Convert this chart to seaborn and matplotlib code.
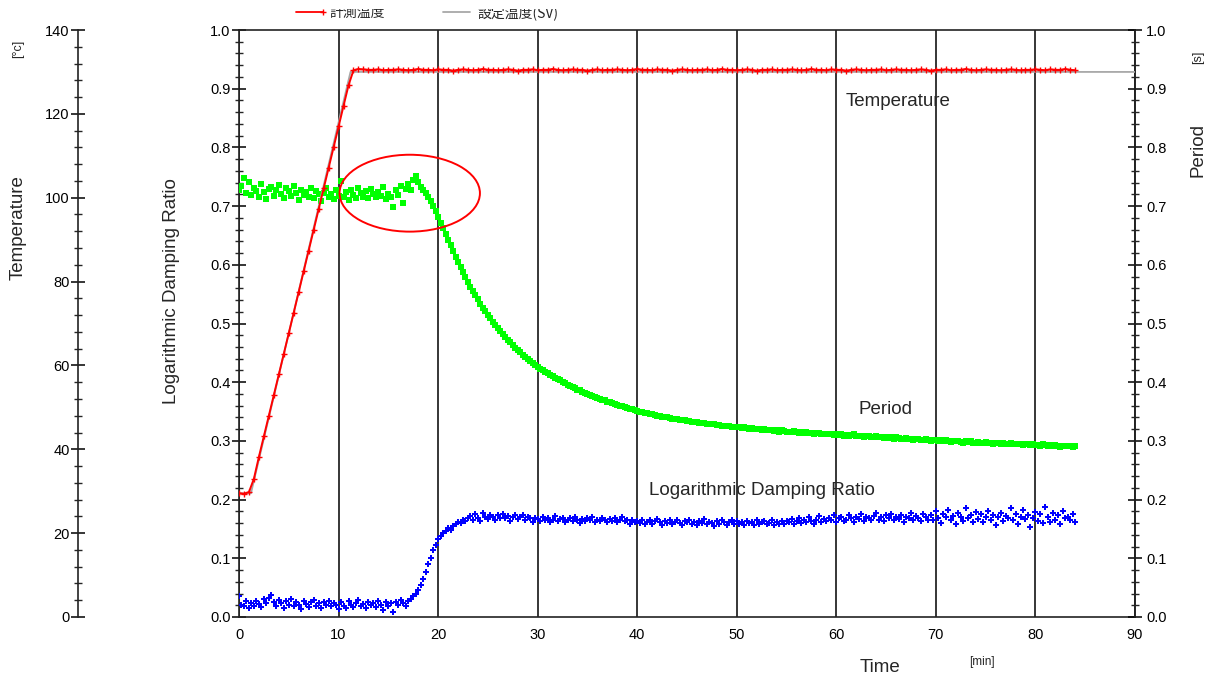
import numpy as np
import pandas as pd
import matplotlib
matplotlib.use("Agg")
import matplotlib.pyplot as plt
from matplotlib.patches import Ellipse, Rectangle
from matplotlib.lines import Line2D
from matplotlib.ticker import MultipleLocator, FormatStrFormatter
import seaborn as sns

# ---------------- data ----------------
STEP_FAST = 0.25   # min, sampling of period / damping ratio
STEP_TEMP = 0.5    # min, sampling of measured temperature

period_s = [
    # 0 - 18.5 min : flat, noisy
    .727, .735, .748, .722, .741, .719, .731, .726, .715, .737, .724, .712, .729, .733, .718, .727,
    .736, .721, .714, .730, .725, .717, .734, .722, .711, .728, .719, .724, .716, .731, .713, .726,
    .720, .709, .723, .730, .715, .721, .712, .727, .718, .742, .716, .724, .711, .728, .719, .714,
    .731, .722, .716, .725, .713, .729, .720, .715, .724, .718, .733, .712, .721, .716, .699, .727,
    .719, .735, .706, .729, .738, .727, .744, .752, .741, .733, .728,
    # 18.75 - 30 min : drop
    .722, .715, .709, .700, .691, .681, .672, .662, .652, .642, .633, .624, .614, .605, .596, .587,
    .579, .571, .563, .556, .548, .541, .534, .527, .521, .515, .509, .503, .497, .492, .487, .482,
    .477, .472, .468, .463, .459, .455, .451, .447, .443, .440, .436, .433, .429, .426,
    # 30.25 - 50 min
    .423, .421, .418, .415, .413, .410, .408, .405, .403, .401, .398, .396, .394, .392, .390, .387,
    .386, .384, .382, .380, .378, .377, .375, .373, .372, .370, .369, .367, .366, .364, .363, .361,
    .360, .359, .358, .356, .355, .354, .352, .351, .350, .349, .348, .347, .346, .345, .344, .343,
    .342, .341, .341, .340, .339, .338, .338, .337, .336, .335, .335, .334, .334, .333, .332, .332,
    .331, .331, .330, .329, .329, .328, .328, .327, .327, .326, .326, .325, .325, .324, .324, .323,
    # 50.25 - 84 min
    .323, .322, .324, .322, .321, .322, .320, .321, .320, .319, .321, .319, .318, .319, .317, .318,
    .316, .318, .317, .316, .315, .316, .317, .315, .314, .315, .313, .315, .313, .314, .312, .313,
    .313, .311, .312, .312, .311, .312, .310, .311, .310, .311, .309, .310, .309, .310, .311, .309,
    .308, .309, .307, .308, .308, .306, .307, .308, .306, .307, .305, .306, .305, .306, .304, .306,
    .305, .303, .304, .305, .303, .304, .302, .304, .303, .302, .301, .303, .302, .300, .302, .301,
    .300, .301, .299, .301, .300, .298, .300, .299, .299, .298, .297, .299, .298, .299, .297, .297,
    .298, .296, .297, .298, .296, .297, .295, .297, .296, .294, .296, .295, .295, .296, .294, .295,
    .294, .295, .293, .294, .295, .293, .294, .293, .293, .292, .294, .293, .292, .293, .291, .293,
    .292, .290, .292, .291, .291, .292, .290, .291,
]

damping = [
    # 0 - 17.5 min
    .036, .021, .018, .027, .015, .024, .019, .028, .022, .017, .030, .024, .033, .038, .026, .019,
    .029, .023, .016, .027, .021, .031, .018, .025, .020, .014, .027, .022, .017, .025, .029, .019,
    .023, .015, .026, .021, .028, .018, .024, .020, .013, .025, .019, .016, .027, .021, .017, .024,
    .029, .018, .022, .015, .026, .020, .024, .017, .028, .021, .012, .025, .019, .023, .008, .026,
    .020, .029, .024, .018, .027, .031, .035,
    # 17.75 - 23 min : rise
    .039, .046, .055, .064, .076, .090, .101, .114, .122, .133, .138, .143, .146, .151, .149, .155,
    .158, .162, .160, .165, .163, .168,
    # 23.25 - 30 min
    .172, .166, .175, .169, .163, .178, .171, .167, .174, .170, .165, .173, .169, .176, .168, .172,
    .164, .171, .174, .167, .170, .173, .166, .171, .168, .162, .169,
    # 30.25 - 40 min
    .167, .163, .170, .165, .168, .161, .166, .172, .164, .167, .169, .162, .165, .168, .163, .170,
    .166, .160, .167, .164, .168, .165, .171, .162, .166, .163, .169, .165, .161, .167, .164, .168,
    .162, .166, .170, .163, .165, .158, .166, .162,
    # 40.25 - 55 min
    .164, .160, .166, .158, .162, .165, .159, .163, .167, .161, .157, .163, .160, .165, .158, .162,
    .166, .160, .156, .163, .161, .165, .159, .162, .157, .164, .160, .167, .158, .162, .160, .155,
    .163, .159, .165, .161, .157, .162, .166, .159, .163, .158, .161, .156, .164, .160, .162, .157,
    .165, .159, .161, .163, .158, .160, .166, .157, .162, .159, .164,
    # 55.25 - 70 min
    .158, .164, .161, .167, .159, .163, .168, .160, .165, .162, .170, .164, .159, .166, .172, .162,
    .167, .163, .169, .165, .174, .161, .168, .171, .164, .166, .173, .169, .162, .170, .167, .175,
    .163, .171, .168, .165, .172, .178, .166, .170, .163, .173, .169, .176, .165, .171, .167, .174,
    .162, .170, .168, .177, .165, .172, .169, .163, .175, .170, .166,
    # 70.25 - 84 min
    .174, .165, .180, .169, .160, .176, .171, .183, .166, .172, .158, .177, .170, .164, .185, .168,
    .173, .161, .179, .167, .175, .162, .171, .181, .166, .174, .157, .170, .178, .163, .172, .168,
    .186, .165, .176, .159, .171, .182, .167, .174, .153, .169, .179, .164, .175, .160, .188, .170,
    .162, .178, .166, .173, .158, .181, .168, .171, .165, .176, .162,
]

temp_measured = [
    # 0 - 11.5 min
    29.5, 29.4, 29.8, 33.0, 38.2, 43.1, 48.0, 53.0, 57.9, 62.8, 67.7, 72.6, 77.6, 82.5, 87.4, 92.3,
    97.2, 102.2, 107.1, 112.0, 117.0, 121.9, 126.8, 130.4,
    # 12 - 84 min
    130.7, 130.6, 130.5, 130.5, 130.6, 130.4, 130.5, 130.5, 130.6, 130.5, 130.4, 130.5, 130.7, 130.5,
    130.5, 130.4, 130.6, 130.5, 130.5, 130.3, 130.5, 130.6, 130.5, 130.4, 130.5, 130.7, 130.5, 130.5,
    130.4, 130.5, 130.6, 130.5, 130.3, 130.5, 130.5, 130.6, 130.4, 130.5, 130.5, 130.7, 130.5, 130.4,
    130.5, 130.6, 130.5, 130.5, 130.3, 130.5, 130.6, 130.4, 130.5, 130.5, 130.6, 130.5, 130.4, 130.5,
    130.7, 130.5, 130.5, 130.4, 130.6, 130.5, 130.5, 130.3, 130.5, 130.6, 130.5, 130.4, 130.5, 130.5,
    130.6, 130.4, 130.5, 130.7, 130.5, 130.5, 130.4, 130.5, 130.6, 130.5, 130.3, 130.5, 130.5, 130.6,
    130.4, 130.5, 130.5, 130.6, 130.5, 130.4, 130.5, 130.7, 130.5, 130.5, 130.4, 130.6, 130.5, 130.5,
    130.3, 130.5, 130.6, 130.5, 130.4, 130.5, 130.5, 130.6, 130.4, 130.5, 130.6, 130.5, 130.5, 130.4,
    130.5, 130.6, 130.5, 130.3, 130.5, 130.5, 130.6, 130.4, 130.5, 130.5, 130.7, 130.5, 130.4, 130.5,
    130.6, 130.5, 130.5, 130.4, 130.5, 130.6, 130.5, 130.4, 130.5, 130.5, 130.6,
    130.5, 130.4, 130.6, 130.5, 130.5, 130.7, 130.5, 130.4,
]

set_time = [0.0, 1.2, 11.2, 90.0]
set_temp = [29.5, 29.5, 130.0, 130.0]

x_ticks = [0, 10, 20, 30, 40, 50, 60, 70, 80, 90]
ratio_ticks = [0.0, 0.1, 0.2, 0.3, 0.4, 0.5, 0.6, 0.7, 0.8, 0.9, 1.0]
temp_ticks = [0, 20, 40, 60, 80, 100, 120, 140]

legend_labels = ["計測温度", "設定温度(SV)"]

df_fast = pd.DataFrame({
    "time": np.arange(len(period_s)) * STEP_FAST,
    "period": period_s,
})
df_damp = pd.DataFrame({
    "time": np.arange(len(damping)) * STEP_FAST,
    "damping": damping,
})
df_temp = pd.DataFrame({
    "time": np.arange(len(temp_measured)) * STEP_TEMP,
    "temp": temp_measured,
})
df_set = pd.DataFrame({"time": set_time, "temp": set_temp})

# ---------------- style ----------------
sns.set_style("white")
plt.rcParams["font.family"] = ["Liberation Sans", "Noto Sans CJK JP", "DejaVu Sans"]

W, H = 1209, 679
fig = plt.figure(figsize=(W / 100, H / 100), dpi=100)
fig.patch.set_facecolor("white")

L, R, T, B = 239, 1135, 30, 617
ax = fig.add_axes([L / W, 1 - B / H, (R - L) / W, (B - T) / H])
ax.set_facecolor("white")
ax.set_axisbelow(True)

# period (green) and damping ratio (blue)
sns.scatterplot(data=df_fast, x="time", y="period", ax=ax, marker="s", s=13,
                color="#00FF00", linewidth=0, legend=False, zorder=3)
sns.scatterplot(data=df_damp, x="time", y="damping", ax=ax, marker="P", s=20,
                color="#0000FF", linewidth=0, legend=False, zorder=3)

ax.set_xlim(0, 90)
ax.set_ylim(0, 1)
ax.set_xticks(x_ticks)
ax.set_yticks(ratio_ticks)
ax.xaxis.set_minor_locator(MultipleLocator(2))
ax.yaxis.set_minor_locator(MultipleLocator(0.02))
ax.yaxis.set_major_formatter(FormatStrFormatter("%.1f"))
ax.grid(axis="x", which="major", color="black", linewidth=1.1)
ax.grid(axis="y", visible=False)
ax.set_xlabel("")
ax.set_ylabel("")

for s in ax.spines.values():
    s.set_color("#222222")
    s.set_linewidth(1.2)
    s.set_visible(True)

tick_kw = dict(direction="inout", colors="black", labelsize=10.5)
ax.tick_params(axis="both", which="major", length=10, width=1.1, **tick_kw)
ax.tick_params(axis="both", which="minor", length=6, width=1.0, direction="inout")
ax.tick_params(axis="y", which="major", pad=1)
ax.tick_params(axis="x", which="major", pad=3)

# right "Period" axis (same 0-1 scale)
ax_r = ax.twinx()
ax_r.set_ylim(0, 1)
ax_r.set_yticks(ratio_ticks)
ax_r.yaxis.set_minor_locator(MultipleLocator(0.02))
ax_r.yaxis.set_major_formatter(FormatStrFormatter("%.1f"))
ax_r.tick_params(axis="y", which="major", length=10, width=1.1, pad=3, **tick_kw)
ax_r.tick_params(axis="y", which="minor", length=6, width=1.0, direction="inout")
for k, s in ax_r.spines.items():
    s.set_visible(k == "right")
ax_r.spines["right"].set_color("#222222")
ax_r.spines["right"].set_linewidth(1.2)

# left temperature axis, detached
ax_t = ax.twinx()
ax_t.yaxis.set_ticks_position("left")
ax_t.yaxis.set_label_position("left")
ax_t.spines["left"].set_position(("axes", -(L - 78) / (R - L)))
for k, s in ax_t.spines.items():
    s.set_visible(k == "left")
ax_t.spines["left"].set_color("#222222")
ax_t.spines["left"].set_linewidth(1.2)
ax_t.set_ylim(0, 140)
ax_t.set_yticks(temp_ticks)
ax_t.yaxis.set_minor_locator(MultipleLocator(4))
ax_t.tick_params(axis="y", which="major", length=10, width=1.1, pad=1, **tick_kw)
ax_t.tick_params(axis="y", which="minor", length=6, width=1.0, direction="inout")

sns.lineplot(data=df_set, x="time", y="temp", ax=ax_t, color="#A8A8A8",
             linewidth=1.3, estimator=None, sort=False, zorder=2)
sns.lineplot(data=df_temp, x="time", y="temp", ax=ax_t, color="#FF0000",
             linewidth=1.4, marker="+", markersize=4, markeredgewidth=1.0,
             markeredgecolor="#FF0000", estimator=None, sort=False, zorder=3)
ax_t.set_xlim(0, 90)
ax_t.set_xlabel("")
ax_t.set_ylabel("")

# ellipse annotation
ax.add_patch(Ellipse((17.15, 0.722), 14.1, 0.131, fill=False,
                     edgecolor="#FF0000", linewidth=1.4, zorder=5))

# series labels inside plot
lab_fs = 13.5
ax.text(60.9, 0.879, "Temperature", fontsize=lab_fs, va="center", ha="left", zorder=6)
ax.text(62.2, 0.353, "Period", fontsize=lab_fs, va="center", ha="left", zorder=6)
ax.text(41.2, 0.215, "Logarithmic Damping Ratio", fontsize=lab_fs, va="center",
        ha="left", zorder=6)

# axis titles (figure pixel coordinates)
def fx(px):
    return px / W

def fy(py):
    return 1 - py / H

fig.text(fx(18), fy(228), "Temperature", rotation=90, ha="center", va="center", fontsize=lab_fs)
fig.text(fx(18), fy(49), "[°c]", rotation=90, ha="center", va="center", fontsize=9)
fig.text(fx(172), fy(291), "Logarithmic Damping Ratio", rotation=90, ha="center",
         va="center", fontsize=lab_fs)
fig.text(fx(1198), fy(150), "Period", rotation=90, ha="center", va="center", fontsize=lab_fs)
fig.text(fx(1198), fy(57), "[s]", rotation=90, ha="center", va="center", fontsize=9)
fig.text(fx(880), fy(668), "Time", ha="center", va="center", fontsize=lab_fs)
fig.text(fx(982), fy(662), "[min]", ha="center", va="center", fontsize=8.5)

# top legend (cropped in the reference)
fig.add_artist(Line2D([fx(296), fx(323)], [fy(12), fy(12)], color="#FF0000", lw=1.3,
                      marker="+", markevery=[1], markersize=4))
fig.add_artist(Line2D([fx(443), fx(470)], [fy(12), fy(12)], color="#A8A8A8", lw=1.3))
fig.text(fx(330), fy(17), legend_labels[0], ha="left", va="baseline", fontsize=10,
         family=["Noto Sans CJK JP", "DejaVu Sans"])
fig.text(fx(477), fy(17), legend_labels[1], ha="left", va="baseline", fontsize=10,
         family=["Noto Sans CJK JP", "DejaVu Sans"])
fig.add_artist(Rectangle((0, fy(9)), 1, 1 - fy(9), transform=fig.transFigure,
                         facecolor="white", edgecolor="none", zorder=10))

fig.savefig("out.png", dpi=100, facecolor="white")
